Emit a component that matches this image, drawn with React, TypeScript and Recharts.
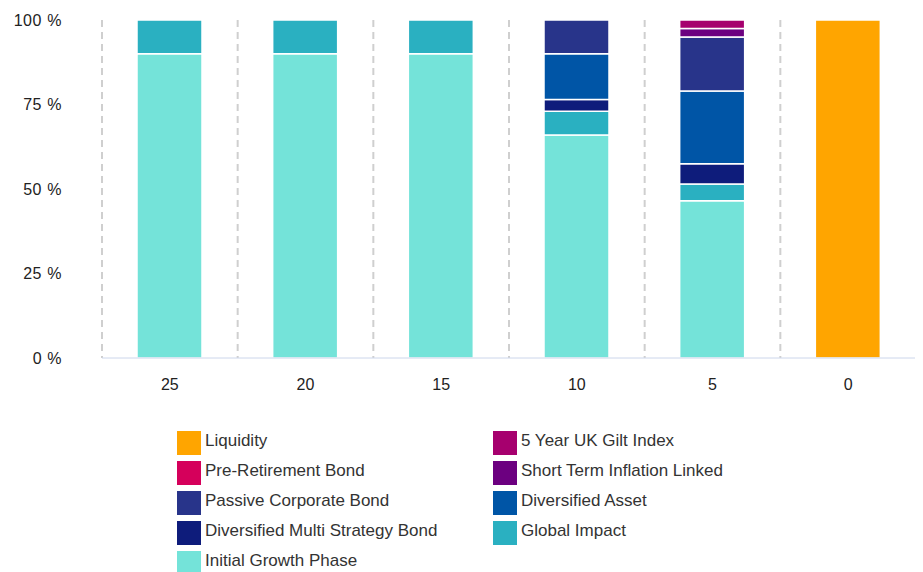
import { Bar, BarChart, CartesianGrid, Legend, XAxis, YAxis } from 'recharts';

const years = ['25', '20', '15', '10', '5', '0'];

const initialGrowth = [90, 90, 90, 66, 46.5, 0];
const globalImpact = [10, 10, 10, 7, 5, 0];
const multiStrategyBond = [0, 0, 0, 3.5, 6, 0];
const diversifiedAsset = [0, 0, 0, 13.5, 21.5, 0];
const passiveCorporateBond = [0, 0, 0, 10, 16, 0];
const shortTermInflation = [0, 0, 0, 0, 2.5, 0];
const preRetirementBond = [0, 0, 0, 0, 0, 0];
const giltIndex = [0, 0, 0, 0, 2.5, 0];
const liquidity = [0, 0, 0, 0, 0, 100];

const yTicks = [0, 25, 50, 75, 100];

// bottom of the stack first
const series = [
    { key: 'igp', name: 'Initial Growth Phase', color: '#74e3d9', values: initialGrowth },
    { key: 'gi', name: 'Global Impact', color: '#2ab0c1', values: globalImpact },
    { key: 'dmsb', name: 'Diversified Multi Strategy Bond', color: '#0e1c7b', values: multiStrategyBond },
    { key: 'da', name: 'Diversified Asset', color: '#0055a6', values: diversifiedAsset },
    { key: 'pcb', name: 'Passive Corporate Bond', color: '#28348a', values: passiveCorporateBond },
    { key: 'stil', name: 'Short Term Inflation Linked', color: '#6c0080', values: shortTermInflation },
    { key: 'prb', name: 'Pre-Retirement Bond', color: '#d5005b', values: preRetirementBond },
    { key: 'gilt', name: '5 Year UK Gilt Index', color: '#a6006e', values: giltIndex },
    { key: 'liq', name: 'Liquidity', color: '#ffa500', values: liquidity },
];

const legendOrder = ['liq', 'gilt', 'prb', 'stil', 'pcb', 'da', 'dmsb', 'gi', 'igp'];

const rows = years.map((year, i) => {
    const row: Record<string, string | number> = { year };
    series.forEach((s) => {
        row[s.key] = s.values[i];
    });
    return row;
});

const FONT = '"Liberation Sans", Arial, sans-serif';

function LegendBox() {
    return (
        <div
            style={{
                display: 'grid',
                gridTemplateColumns: '316px 316px',
                rowGap: 6,
                fontFamily: FONT,
                fontSize: 17,
                color: '#333',
            }}
        >
            {legendOrder.map((k) => {
                const s = series.find((x) => x.key === k)!;
                return (
                    <div key={k} style={{ display: 'flex', alignItems: 'center', height: 24 }}>
                        <span
                            style={{
                                display: 'inline-block',
                                width: 24,
                                height: 24,
                                background: s.color,
                                marginRight: 4,
                            }}
                        />
                        <span style={{ marginTop: -4 }}>{s.name}</span>
                    </div>
                );
            })}
        </div>
    );
}

export default function App() {
    return (
        <div style={{ width: 915, height: 564 }}>
            <BarChart
                width={915}
                height={564}
                data={rows}
                margin={{ top: 12, right: 7, left: 0, bottom: 0 }}
                barSize={65}
            >
                <CartesianGrid
                    horizontal={false}
                    stroke="#cfcfcf"
                    strokeWidth={2}
                    strokeDasharray="7 5"
                    verticalCoordinatesGenerator={({ offset }: any) =>
                        years.concat(['']).map((_, i) => offset.left + (i * offset.width) / years.length)
                    }
                />
                <XAxis
                    dataKey="year"
                    height={214}
                    axisLine={{ stroke: '#ccd6eb', strokeWidth: 1 }}
                    tickLine={false}
                    tickSize={0}
                    tickMargin={21}
                    tick={{ fontSize: 16, fill: '#222', fontFamily: FONT }}
                />
                <YAxis
                    domain={[0, 100]}
                    ticks={yTicks}
                    width={94}
                    axisLine={false}
                    tickLine={false}
                    tickSize={0}
                    tickMargin={40}
                    tickFormatter={(v: number) => `${v} %`}
                    tick={{ fontSize: 16, fill: '#222', fontFamily: FONT, letterSpacing: 0.6 }}
                />
                <Legend
                    layout="horizontal"
                    verticalAlign="middle"
                    align="center"
                    wrapperStyle={{ position: 'absolute', left: 169, top: 423, width: 660 }}
                    content={() => <LegendBox />}
                />
                {series.map((s) => (
                    <Bar
                        key={s.key}
                        dataKey={s.key}
                        name={s.name}
                        stackId="a"
                        fill={s.color}
                        stroke="#fff"
                        strokeWidth={1.5}
                        isAnimationActive={false}
                    />
                ))}
            </BarChart>
        </div>
    );
}
